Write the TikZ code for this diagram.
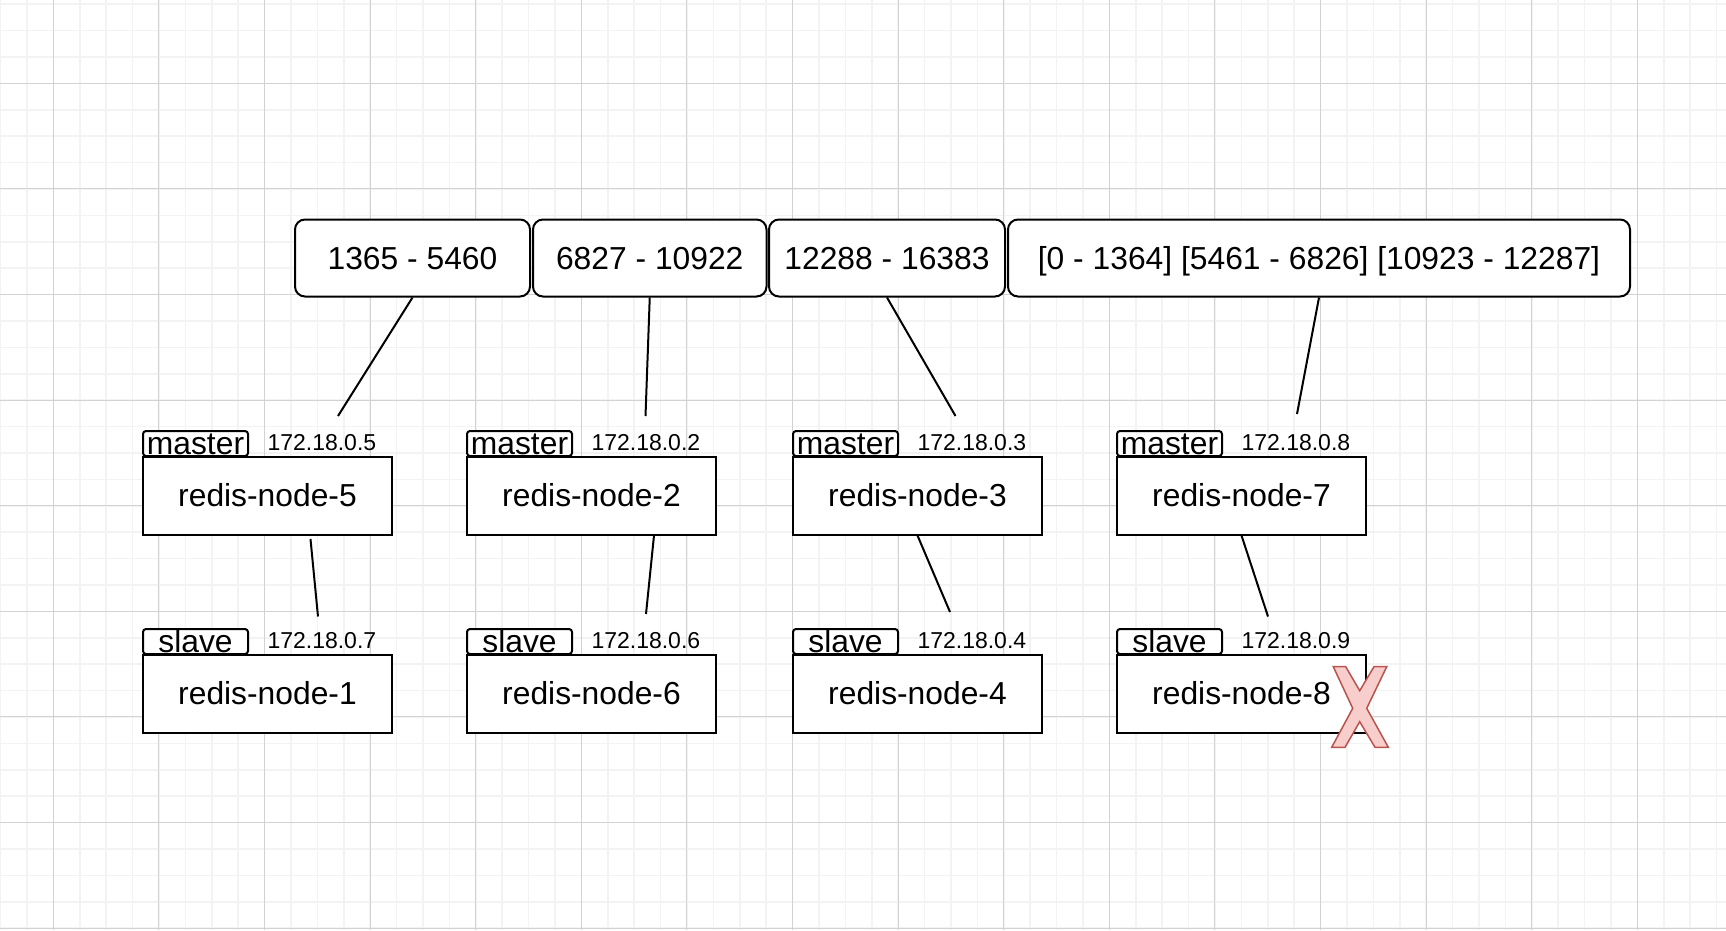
\documentclass[tikz,border=0pt]{standalone}
\usepackage{fontspec}
\setmainfont{Liberation Sans}
\definecolor{gridlight}{HTML}{F3F3F3}
\definecolor{griddark}{HTML}{D2D2D2}
\definecolor{crossfill}{HTML}{F8CECC}
\definecolor{crossline}{HTML}{B85450}
\begin{document}
\begin{tikzpicture}[x=1pt,y=-1pt,line width=2pt,
  gridminor/.style={draw=gridlight,line width=1.6pt},
  gridmajor/.style={draw=griddark,line width=1pt},
  slotbox/.style={draw,fill=white,rounded corners=10pt,minimum height=77pt,inner sep=0pt,
    text height=22.5pt,text depth=0pt,font=\fontsize{31.8}{36}\selectfont},
  tagbox/.style={draw,fill=white,rounded corners=3pt,minimum width=105pt,inner xsep=0pt,inner ysep=2pt,
    text height=21pt,text depth=0pt,anchor=south west,font=\fontsize{31.8}{36}\selectfont},
  nodebox/.style={draw,fill=white,minimum width=249pt,minimum height=78pt,inner sep=0pt,anchor=north west,
    font=\fontsize{31.8}{36}\selectfont},
  iptext/.style={anchor=base west,inner sep=0pt,font=\fontsize{23}{26}\selectfont},
  cross/.style={fill=crossfill,draw=crossline,line width=1.5pt,line join=miter}]
  \fill[white] (0,0) rectangle (1726,930);
  \useasboundingbox (0,0) rectangle (1726,930);
  % grid
  \foreach \i in {0,...,65} \draw[gridminor] ({.5+26.4*\i},0) -- ({.5+26.4*\i},930);
  \foreach \i in {0,...,35} \draw[gridminor] (0,{4.1+26.4*\i}) -- (1726,{4.1+26.4*\i});
  \foreach \i in {0,...,15} \draw[gridmajor] ({53.3+105.6*\i},0) -- ({53.3+105.6*\i},930);
  \foreach \i in {0,...,8} \draw[gridmajor] (0,{83.3+105.6*\i}) -- (1726,{83.3+105.6*\i});
  % slot ranges
  \node[slotbox,minimum width=235pt] (sl1) at (412.5,258) {1365 - 5460};
  \node[slotbox,minimum width=233.5pt] (sl2) at (649.75,258) {6827 - 10922};
  \node[slotbox,minimum width=236pt] (sl3) at (887,258) {12288 - 16383};
  \node[slotbox,minimum width=622pt] (sl4) at (1319,258) {[0 - 1364] [5461 - 6826] [10923 - 12287]};
  % masters
  \node[tagbox] (m5tag) at (142,457) {master};
  \node[nodebox] (n5) at (142,455.5) {redis-node-5};
  \node[iptext] (ip5) at (266.5,450.5) {172.18.0.5};
  \node[tagbox] (m2tag) at (466,457) {master};
  \node[nodebox] (n2) at (466,455.5) {redis-node-2};
  \node[iptext] (ip2) at (590.5,450.5) {172.18.0.2};
  \node[tagbox] (m3tag) at (792,457) {master};
  \node[nodebox] (n3) at (792,455.5) {redis-node-3};
  \node[iptext] (ip3) at (916.5,450.5) {172.18.0.3};
  \node[tagbox] (m7tag) at (1116,457) {master};
  \node[nodebox] (n7) at (1116,455.5) {redis-node-7};
  \node[iptext] (ip7) at (1240.5,450.5) {172.18.0.8};
  % slaves
  \node[tagbox] (s1tag) at (142,655) {slave};
  \node[nodebox] (n1) at (142,653.5) {redis-node-1};
  \node[iptext] (ip1) at (266.5,648.5) {172.18.0.7};
  \node[tagbox] (s6tag) at (466,655) {slave};
  \node[nodebox] (n6) at (466,653.5) {redis-node-6};
  \node[iptext] (ip6) at (590.5,648.5) {172.18.0.6};
  \node[tagbox] (s4tag) at (792,655) {slave};
  \node[nodebox] (n4) at (792,653.5) {redis-node-4};
  \node[iptext] (ip4) at (916.5,648.5) {172.18.0.4};
  \node[tagbox] (s8tag) at (1116,655) {slave};
  \node[nodebox] (n8) at (1116,653.5) {redis-node-8};
  \node[iptext] (ip8) at (1240.5,648.5) {172.18.0.9};
  % free ends
  \coordinate (t5) at (338,416);
  \coordinate (t2) at (645.5,416);
  \coordinate (t3) at (955.5,416);
  \coordinate (t7) at (1297,414);
  \coordinate (b1) at (318,616.5);
  \coordinate (b6) at (646,614);
  \coordinate (b4) at (950,612);
  \coordinate (b8) at (1268,616.5);
  \draw (sl1.south) -- (t5);
  \draw (sl2.south) -- (t2);
  \draw (sl3.south) -- (t3);
  \draw (sl4.south) -- (t7);
  \draw ([xshift=43pt,yshift=-3.5pt]n5.south) -- (b1);
  \draw ([xshift=62.5pt]n2.south) -- (b6);
  \draw (n3.south) -- (b4);
  \draw (n7.south) -- (b8);
  % failed node
  \draw[cross] (1333.3,666.7) -- (1345.7,666.7) -- (1359.7,690.7) -- (1374,666.7) -- (1386.7,666.7)
    -- (1366.7,708.3) -- (1388.3,747.3) -- (1375,747.3) -- (1359.7,721.7) -- (1345,747.3)
    -- (1331.7,747.3) -- (1352.7,708.3) -- cycle;
\end{tikzpicture}
\end{document}
